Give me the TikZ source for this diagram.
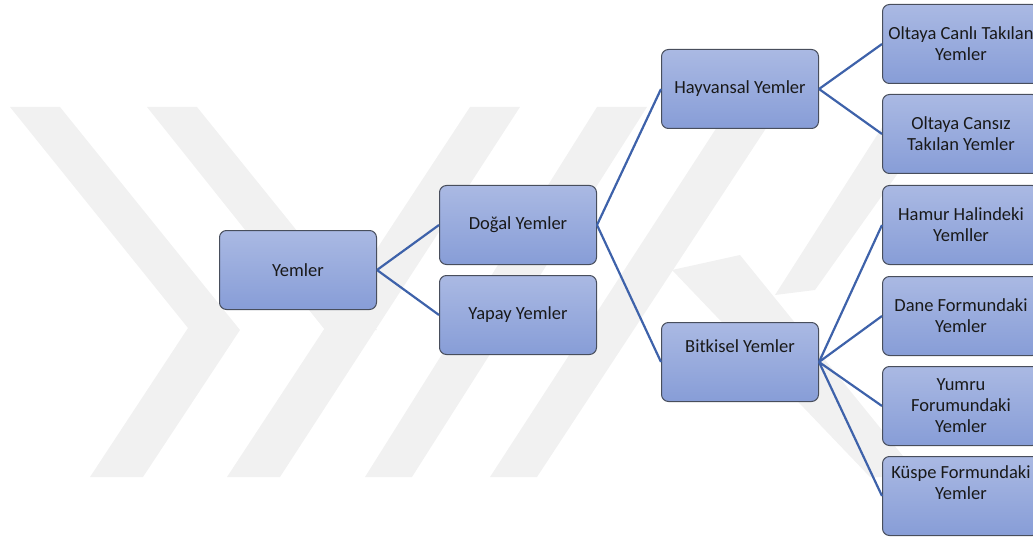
\documentclass[tikz,border=0pt]{standalone}
\usepackage{fontspec}
\setmainfont{Carlito}
\usepackage{tikz, xcolor}

\definecolor{boxtop}{RGB}{170,185,227}
\definecolor{boxbot}{RGB}{135,157,215}
\definecolor{boxline}{RGB}{72,78,92}
\definecolor{linkblue}{RGB}{62,98,170}
\definecolor{wmark}{RGB}{241,241,241}

\tikzset{
  box/.style={draw=boxline, line width=1pt, rounded corners=7pt,
    top color=boxtop, bottom color=boxbot,
    minimum width=157pt, minimum height=79pt, inner sep=0pt,
    align=center, text=black!90, font=\fontsize{18.5}{21}\selectfont},
  link/.style={draw=linkblue, line width=2.2pt}
}

\begin{document}
\begin{tikzpicture}[x=1pt,y=-1pt]
\useasboundingbox (0,0) rectangle (1033,540);
% watermark in the background
\fill[wmark] (10,107) -- (60,107) -- (240,330) -- (143,477) -- (90,477) -- (188,328) -- cycle;
\fill[wmark] (147,107) -- (197,107) -- (377,330) -- (325,330) -- cycle;
\fill[wmark] (227,477) -- (280,477) -- (520,107) -- (470,107) -- cycle;
\fill[wmark] (365,477) -- (412,477) -- (647,107) -- (597,107) -- cycle;
\fill[wmark] (490,477) -- (537,477) -- (780,107) -- (730,107) -- cycle;
\fill[wmark] (672,270) -- (740,255) -- (920,477) -- (870,477) -- cycle;
\fill[wmark] (775,295) -- (815,290) -- (945,107) -- (895,107) -- cycle;

% boxes
\node[box] (yemler) at (298,270) {Yemler};
\node[box] (dogal) at (518,225) {Doğal Yemler};
\node[box] (yapay) at (518,315) {Yapay Yemler};
\node[box] (hayvansal) at (740,89) {Hayvansal Yemler};
\node[box] (bitkisel) at (740,362) {Bitkisel Yemler\\[10pt]\mbox{}};
\node[box] (canli) at (961,44) {Oltaya Canlı Takılan\\Yemler};
\node[box] (cansiz) at (961,134) {Oltaya Cansız\\Takılan Yemler};
\node[box] (hamur) at (961,225) {Hamur Halindeki\\Yemller};
\node[box] (dane) at (961,316) {Dane Formundaki\\Yemler};
\node[box] (yumru) at (961,406) {Yumru\\Forumundaki\\Yemler};
\node[box] (kuspe) at (961,496) {Küspe Formundaki\\Yemler\\[6pt]\mbox{}};

% connectors
\draw[link] (yemler.east) -- (dogal.west);
\draw[link] (yemler.east) -- (yapay.west);
\draw[link] (dogal.east) -- (hayvansal.west);
\draw[link] (dogal.east) -- (bitkisel.west);
\draw[link] (hayvansal.east) -- (canli.west);
\draw[link] (hayvansal.east) -- (cansiz.west);
\draw[link] (bitkisel.east) -- (hamur.west);
\draw[link] (bitkisel.east) -- (dane.west);
\draw[link] (bitkisel.east) -- (yumru.west);
\draw[link] (bitkisel.east) -- (kuspe.west);
\end{tikzpicture}
\end{document}
